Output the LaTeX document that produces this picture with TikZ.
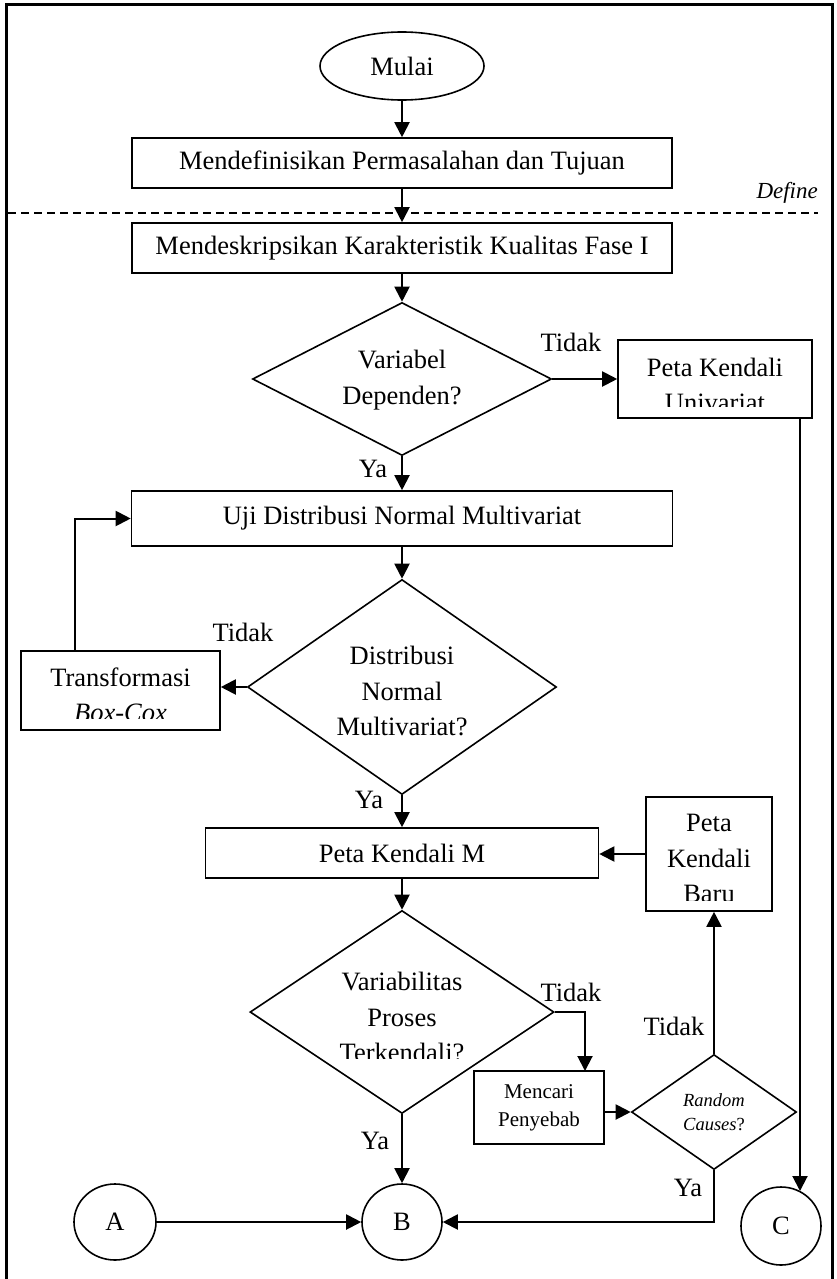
\documentclass[tikz,border=0pt]{standalone}
\usepackage{fontspec}
\setmainfont{Liberation Serif}
\usetikzlibrary{shapes.geometric,arrows.meta}
\begin{document}
\begin{tikzpicture}[x=1pt,y=-1pt,
  box/.style={draw,line width=1.6pt,rectangle,inner sep=0pt},
  dia/.style={draw,line width=1.6pt,diamond,inner sep=0pt},
  circ/.style={draw,line width=1.6pt,ellipse,inner sep=0pt},
  txt/.style={font=\fontsize{26.5}{35.5}\selectfont,align=center,inner sep=0pt},
  smalltxt/.style={font=\fontsize{21}{28}\selectfont,align=center,inner sep=0pt},
  tinytxt/.style={font=\fontsize{18.5}{24}\selectfont,align=center,inner sep=0pt},
  arr/.style={line width=2pt,-{Triangle[length=15pt,width=15pt]}},
  ln/.style={line width=2pt},
]
\useasboundingbox (0,0) rectangle (836,1279);
\draw[line width=3pt] (6,1279) -- (6,5) -- (832,5) -- (832,1279);

% separator
\draw[line width=1.5pt, dash pattern=on 8pt off 5pt] (8,213) -- (818,213);
\node[font=\fontsize{23}{28}\selectfont\itshape, anchor=east, inner sep=0pt] (define) at (818,193) {Define};

% nodes
\node[circ,txt,minimum width=164pt,minimum height=68pt] (start) at (402,66) {Mulai};
\node[box,txt,minimum width=540pt,minimum height=50pt] (box1) at (402,163) {Mendefinisikan Permasalahan dan Tujuan};
\node[box,txt,minimum width=540pt,minimum height=50pt] (box2) at (402,248) {Mendeskripsikan Karakteristik Kualitas Fase I};
\node[dia,minimum width=299pt,minimum height=153pt] (d1) at (402,379) {};
\node[txt] (d1t) at (402,380) {Variabel\\Dependen?};
\node[box,minimum width=194pt,minimum height=78pt] (univ) at (715,379) {};
\begin{scope}
  \clip (620,342) rectangle (810,406);
  \node[txt] (univt) at (715,385) {Peta Kendali\\Univariat};
\end{scope}
\node[box,txt,minimum width=541pt,minimum height=55pt] (box3) at (402,518.5) {Uji Distribusi Normal Multivariat};
\node[dia,minimum width=309pt,minimum height=215pt] (d2) at (402,687) {};
\node[txt] (d2t) at (402,691) {Distribusi\\Normal\\Multivariat?};
\node[box,minimum width=199pt,minimum height=79pt] (tbox) at (120.5,690.5) {};
\begin{scope}
  \clip (23,653) rectangle (218,718);
  \node[txt] (tboxt) at (120.5,695) {Transformasi\\\textit{Box-Cox}};
\end{scope}
\node[box,txt,minimum width=393pt,minimum height=50pt] (box4) at (402,853) {Peta Kendali M};
\node[box,minimum width=126pt,minimum height=114pt] (baru) at (709,854) {};
\begin{scope}
  \clip (648,799) rectangle (770,900);
  \node[txt] (barut) at (709,858.5) {Peta\\Kendali\\Baru};
\end{scope}
\node[dia,minimum width=304pt,minimum height=203pt] (d3) at (402,1012) {};
\begin{scope}
  \clip (260,912) rectangle (545,1058);
  \node[txt] (d3t) at (402,1017) {Variabilitas\\Proses\\Terkendali?};
\end{scope}
\node[box,smalltxt,minimum width=130pt,minimum height=73pt] (mbox) at (539,1107.5) {Mencari\\Penyebab};
\node[dia,minimum width=165pt,minimum height=115pt] (d4) at (714,1112) {};
\node[tinytxt] (d4t) at (714,1112) {\textit{Random}\\\textit{Causes}?};
\node[circ,txt,minimum width=82pt,minimum height=76pt] (A) at (115,1222) {A};
\node[circ,txt,minimum width=80pt,minimum height=76pt] (B) at (402,1222) {B};
\node[circ,txt,minimum width=80pt,minimum height=78pt] (C) at (781,1226) {C};

% helper coordinates
\coordinate (fb) at (75,651);
\coordinate (mtop) at (585,1071);
\coordinate (u1) at (800,418);
\coordinate (cin) at (800,1191);

% connectors
\draw[arr] (start.south) -- (start.south |- box1.north);
\draw[arr] (box1.south) -- (box2.north);
\draw[arr] (box2.south) -- (d1.north);
\draw[arr] (d1.east) -- (univ.west);
\draw[arr] (d1.south) -- (box3.north);
\draw[arr] (box3.south) -- (d2.north);
\draw[arr] (d2.west) -- (d2.west -| tbox.east);
\draw[arr] (fb) |- (box3.west);
\draw[arr] (d2.south) -- (box4.north);
\draw[arr] (baru.west) -- (baru.west -| box4.east);
\draw[arr] (box4.south) -- (d3.north);
\draw[arr] (d3.east) -| (mtop);
\draw[arr] (mbox.east |- d4.west) -- (d4.west);
\draw[arr] (d4.north) -- (d4.north |- baru.south);
\draw[arr] (A) -- (B);
\draw[arr] (d3.south) -- (B.north);
\draw[arr] (d4.south) |- (B.east);
\draw[arr] (u1) -- (cin);

% labels
\node[txt] (l1) at (571,342) {Tidak};
\node[txt] (l2) at (373,469) {Ya};
\node[txt] (l3) at (243,632) {Tidak};
\node[txt] (l4) at (369,800) {Ya};
\node[txt] (l5) at (571,992) {Tidak};
\node[txt] (l6) at (674,1026) {Tidak};
\node[txt] (l7) at (375,1141) {Ya};
\node[txt] (l8) at (688,1188) {Ya};
\end{tikzpicture}
\end{document}
